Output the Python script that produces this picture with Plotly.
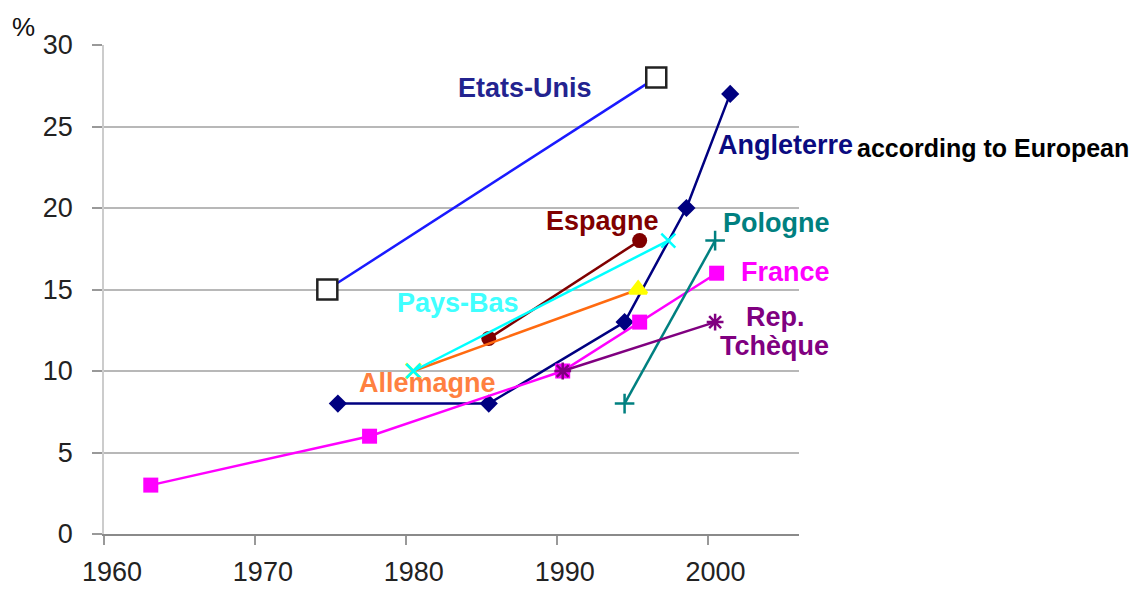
import plotly.graph_objects as go

# ---- data ----
usa_x = [1974.8, 1996.6]
usa_y = [15, 28]
eng_x = [1975.5, 1985.5, 1994.5, 1998.6, 2001.5]
eng_y = [8, 8, 13, 20, 27]
esp_x = [1985.5, 1995.5]
esp_y = [12, 18]
ger_x = [1980.5, 1995.4]
ger_y = [10, 15]
nl_x = [1980.5, 1997.4]
nl_y = [10, 18]
fra_x = [1963.1, 1977.6, 1990.4, 1995.5, 2000.6]
fra_y = [3, 6, 10, 13, 16]
pol_x = [1994.5, 2000.5]
pol_y = [8, 18]
cze_x = [1990.4, 2000.5]
cze_y = [10, 13]

x_ticks = [1960, 1970, 1980, 1990, 2000]
y_ticks = [0, 5, 10, 15, 20, 25, 30]

# ---- layout geometry ----
W, H = 1133, 589
L, R, T, B = 103.5, 799, 45, 534

def px(x):
    return (x - L) / (R - L)

def py(y):
    return (B - y) / (B - T)

LW = 2.5
fig = go.Figure()

fig.add_trace(go.Scatter(x=usa_x, y=usa_y, mode="lines+markers",
                         line=dict(color="#1a1aff", width=LW),
                         marker=dict(symbol="square", size=20, color="white",
                                     line=dict(color="#222222", width=2.5))))
fig.add_trace(go.Scatter(x=eng_x, y=eng_y, mode="lines+markers",
                         line=dict(color="#000080", width=LW),
                         marker=dict(symbol="diamond", size=14, color="#000080")))
fig.add_trace(go.Scatter(x=esp_x, y=esp_y, mode="lines+markers",
                         line=dict(color="#800000", width=LW),
                         marker=dict(symbol="circle", size=15, color="#800000")))
fig.add_trace(go.Scatter(x=ger_x, y=ger_y, mode="lines+markers",
                         line=dict(color="#ff6a10", width=LW),
                         marker=dict(symbol=["x-thin", "triangle-up"], size=15,
                                     color="#ffff00",
                                     line=dict(color="#ffff00", width=3))))
fig.add_trace(go.Scatter(x=nl_x, y=nl_y, mode="lines+markers",
                         line=dict(color="#00ffff", width=LW),
                         marker=dict(symbol="x-thin", size=14, color="#00ffff",
                                     line=dict(color="#00ffff", width=2.5))))
fig.add_trace(go.Scatter(x=fra_x, y=fra_y, mode="lines+markers",
                         line=dict(color="#ff00ff", width=LW),
                         marker=dict(symbol="square", size=15, color="#ff00ff")))
fig.add_trace(go.Scatter(x=pol_x, y=pol_y, mode="lines+markers",
                         line=dict(color="#008080", width=LW),
                         marker=dict(symbol="cross-thin", size=14, color="#008080",
                                     line=dict(color="#008080", width=2.5))))
fig.add_trace(go.Scatter(x=cze_x, y=cze_y, mode="lines+markers",
                         line=dict(color="#800080", width=LW),
                         marker=dict(symbol="asterisk", size=14, color="#800080",
                                     line=dict(color="#800080", width=2.5))))

BOLD = "Liberation Sans, Arial, sans-serif"

def lab(text, cx, cy, color, size=27, anchor="center"):
    fig.add_annotation(text=text, x=px(cx), y=py(cy), xref="paper", yref="paper",
                       xanchor=anchor, yanchor="middle", showarrow=False,
                       font=dict(family=BOLD, size=size, color=color, weight="bold"))

lab("according to European", 855, 148, "#000000", size=25, anchor="left")
lab("Etats-Unis", 525, 88, "#23238f")
lab("Angleterre", 716, 145, "#0a0a80", anchor="left")
lab("Espagne", 602, 221, "#800000")
lab("Pologne", 776, 223, "#008080")
lab("France", 785, 272, "#ff00ff")
lab("Pays-Bas", 458, 303, "#40ffff")
lab("Rep.", 775, 317, "#800080")
lab("Tchèque", 774, 346, "#800080")
lab("Allemagne", 427, 383, "#ff8040")

fig.add_annotation(text="%", x=px(23), y=py(27), xref="paper", yref="paper",
                   xanchor="center", yanchor="middle", showarrow=False,
                   font=dict(family=BOLD, size=26, color="#111111"))

fig.update_layout(
    width=W, height=H,
    margin=dict(l=L, r=W - R, t=T, b=H - B, pad=0, autoexpand=False),
    paper_bgcolor="white", plot_bgcolor="white",
    showlegend=False,
    xaxis=dict(range=[1960, 1960 + (R - L) / 15.1], tickvals=x_ticks,
               ticks="outside", ticklen=9, tickcolor="#999999", tickwidth=1.5,
               showgrid=False, showline=True, linecolor="#8a8a8a", linewidth=2,
               zeroline=False, ticklabelshift=8, ticklabelstandoff=4,
               automargin=False,
               tickfont=dict(family="Liberation Sans, Arial", size=27, color="#222222")),
    yaxis=dict(range=[0, 30], tickvals=y_ticks,
               ticks="outside", ticklen=10, tickcolor="#999999", tickwidth=1.5,
               showgrid=True, gridcolor="#b8b8b8", gridwidth=2,
               showline=True, linecolor="#cccccc", linewidth=1.5,
               zeroline=False, ticklabelstandoff=14, automargin=False,
               tickfont=dict(family="Liberation Sans, Arial", size=27, color="#222222")),
)

fig.write_html("out.html", config={"displayModeBar": False},
               post_script="document.body.style.margin='0px';")
